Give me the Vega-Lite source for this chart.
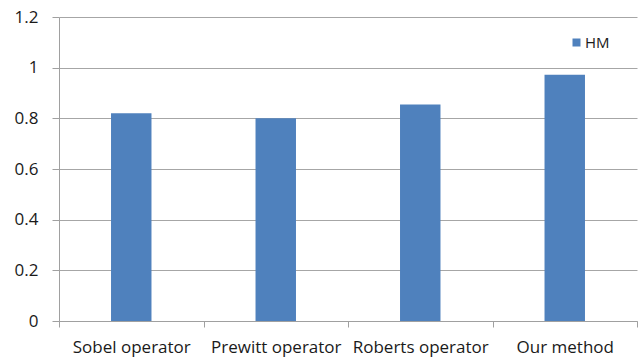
{
  "$schema": "https://vega.github.io/schema/vega-lite/v6.json",
  "width": 578,
  "height": 304,
  "autosize": "none",
  "padding": {"left": 59, "top": 17, "right": 6, "bottom": 37},
  "background": "white",
  "config": {
    "view": {"stroke": null},
    "font": "Open Sans"
  },
  "data": {
    "values": [
      {"method": "Sobel operator", "series": "HM", "value": 0.82},
      {"method": "Prewitt operator", "series": "HM", "value": 0.80},
      {"method": "Roberts operator", "series": "HM", "value": 0.855},
      {"method": "Our method", "series": "HM", "value": 0.972}
    ]
  },
  "mark": {"type": "bar", "width": {"band": 0.28}},
  "encoding": {
    "x": {
      "field": "method",
      "type": "nominal",
      "sort": null,
      "scale": {"paddingInner": 0, "paddingOuter": 0},
      "axis": {
        "title": null,
        "labelAngle": 0,
        "tickBand": "extent",
        "domainColor": "#a0a0a0",
        "tickColor": "#a0a0a0",
        "tickSize": 6,
        "labelPadding": 12,
        "labelFontSize": 17,
        "labelColor": "#1a1a1a",
        "labelFont": "Open Sans"
      }
    },
    "y": {
      "field": "value",
      "type": "quantitative",
      "scale": {"domain": [0, 1.2], "nice": false},
      "axis": {
        "title": null,
        "values": [0, 0.2, 0.4, 0.6, 0.8, 1, 1.2],
        "format": "~g",
        "grid": true,
        "gridColor": "#a6a6a6",
        "domainColor": "#a0a0a0",
        "tickColor": "#a0a0a0",
        "tickSize": 7,
        "labelPadding": 14,
        "labelFontSize": 17,
        "labelColor": "#1a1a1a",
        "labelFont": "Open Sans"
      }
    },
    "color": {
      "field": "series",
      "type": "nominal",
      "scale": {"domain": ["HM"], "range": ["#4f81bd"]},
      "legend": {
        "title": null,
        "orient": "none",
        "legendX": 510,
        "legendY": 18,
        "symbolType": "square",
        "symbolSize": 64,
        "symbolStrokeWidth": 0,
        "labelFontSize": 15,
        "labelColor": "#1a1a1a",
        "labelFont": "Open Sans",
        "labelOffset": 1
      }
    }
  }
}
